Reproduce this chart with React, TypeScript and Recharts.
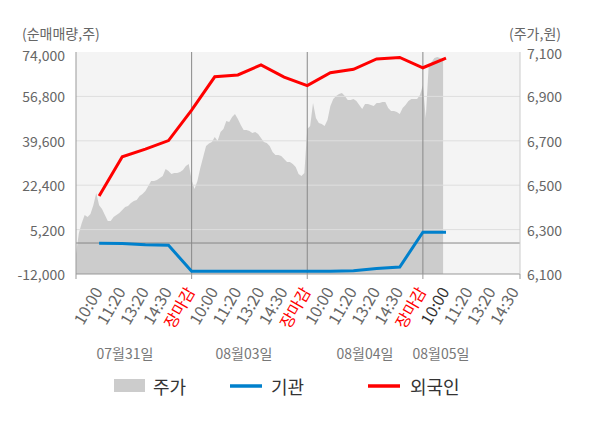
import React from 'react';
import { ComposedChart, Area, Line, XAxis, YAxis, CartesianGrid, ReferenceLine } from 'recharts';

const xLabels = [
  '10:00', '11:20', '13:20', '14:30', '장마감',
  '10:00', '11:20', '13:20', '14:30', '장마감',
  '10:00', '11:20', '13:20', '14:30', '장마감',
  '10:00', '11:20', '13:20', '14:30',
];
const dayLabels = ['07월31일', '08월03일', '08월04일', '08월05일'];
const dayLabelX = [125, 244, 365, 441];

const priceDay1 = [6190, 6285, 6330, 6366, 6357, 6370, 6410, 6465, 6410, 6393, 6366, 6339, 6339, 6357, 6366, 6375, 6388, 6402, 6406, 6420, 6429, 6433, 6451, 6460, 6474, 6496, 6519, 6519, 6523, 6532, 6541, 6573, 6564, 6550, 6555, 6555, 6559, 6568, 6586, 6595];
const priceDay2 = [6523, 6483, 6519, 6577, 6627, 6677, 6688, 6695, 6717, 6699, 6740, 6753, 6789, 6785, 6807, 6821, 6798, 6771, 6749, 6749, 6744, 6735, 6740, 6731, 6713, 6695, 6690, 6677, 6650, 6636, 6636, 6632, 6618, 6604, 6604, 6595, 6582, 6550, 6541, 6555];
const priceDay3 = [6753, 6767, 6870, 6803, 6780, 6776, 6767, 6794, 6857, 6888, 6902, 6911, 6915, 6902, 6884, 6884, 6888, 6879, 6861, 6843, 6866, 6866, 6861, 6857, 6870, 6870, 6875, 6875, 6848, 6834, 6834, 6830, 6821, 6848, 6861, 6879, 6888, 6888, 6888, 6906];
const priceDay4 = [6950, 6803, 7037, 7055, 7073, 7077, 7073, 7064];

const foreignFlow = [18200, 33400, 36400, 39700, 51500, 64400, 65100, 69000, 64300, 61000, 66000, 67300, 71300, 71900, 67900, 71600];
const institutionFlow = [-100, -200, -700, -900, -10900, -10900, -10900, -10900, -10900, -10900, -10900, -10700, -9900, -9300, 4200, 4200];

const flowTicks = [-12000, 5200, 22400, 39600, 56800, 74000];
const priceTicks = [6100, 6300, 6500, 6700, 6900, 7100];

const DAY_SPAN = 5;
const SAMPLE_STEP = 0.125;
const X_MAX = 19.2;
const boundaryTicks = [0, 5, 10, 15, X_MAX];
const labelTicks = xLabels.map((_, i) => i + 1);
const allTicks = Array.from(new Set([...boundaryTicks, ...labelTicks])).sort((a, b) => a - b);

function buildRows() {
  const map = new Map<number, any>();
  [priceDay1, priceDay2, priceDay3, priceDay4].forEach((arr, d) => {
    arr.forEach((p, i) => {
      const x = d * DAY_SPAN + i * SAMPLE_STEP;
      map.set(x, { x, price: p });
    });
  });
  foreignFlow.forEach((v, j) => {
    const x = j + 1;
    const r = map.get(x) ?? { x };
    r.frgn = v;
    r.inst = institutionFlow[j];
    map.set(x, r);
  });
  return Array.from(map.values()).sort((a, b) => a.x - b.x);
}
const rows = buildRows();

const FONT = "'Noto Sans CJK KR', 'Noto Sans', sans-serif";

const XTick = (props: any) => {
  const { x, y, payload } = props;
  const v = payload.value;
  const parts: React.ReactNode[] = [];
  if (boundaryTicks.includes(v)) {
    parts.push(<line key="l" x1={x} x2={x} y1={y} y2={y + 5} stroke="#999" />);
  }
  if (Number.isInteger(v) && v >= 1 && v <= xLabels.length) {
    const label = xLabels[v - 1];
    const color = label === '장마감' ? '#ff0000' : v === 16 ? '#333' : '#666';
    const ax = x + 4;
    const ay = y + 17.5;
    parts.push(
      <text key="t" x={ax} y={ay} textAnchor="end" fontSize={16} fill={color} fontFamily={FONT}
        transform={`rotate(-60 ${ax} ${ay})`}>{label}</text>
    );
  }
  return <g>{parts}</g>;
};

const makeYTick = (anchor: 'start' | 'end', topValue: number, topShift: number) => (props: any) => {
  const { x, y, payload } = props;
  const v = payload.value as number;
  return (
    <text x={x} y={y + (v === topValue ? topShift : 0)} textAnchor={anchor} dominantBaseline="central"
      fontSize={14} fill="#666" fontFamily={FONT}>{v.toLocaleString('en-US')}</text>
  );
};
const LeftTick = makeYTick('end', 74000, 3);
const RightTick = makeYTick('start', 7100, 1);

export default function App() {
  return (
    <div style={{ position: 'absolute', left: 0, top: 0, width: 600, height: 428, fontFamily: FONT, background: '#fff' }}>
      <ComposedChart width={600} height={428} data={rows} margin={{ top: 52, right: 0, left: 0, bottom: 94 }}>
        <CartesianGrid fill="#f4f4f4" horizontal={false} vertical={false} yAxisId="flow" />
        <XAxis dataKey="x" type="number" domain={[0, X_MAX]} ticks={allTicks} interval={0}
          tick={<XTick />} tickLine={false} tickSize={0} tickMargin={0} height={60}
          axisLine={{ stroke: '#999' }} allowDataOverflow />
        <YAxis yAxisId="flow" orientation="left" width={76} domain={[-12000, 74000]} ticks={flowTicks}
          tickLine={false} tickSize={0} tickMargin={11} interval={0}
          axisLine={{ stroke: '#999' }} tick={<LeftTick />} allowDataOverflow />
        <YAxis yAxisId="price" orientation="right" width={80} domain={[6100, 7100]} ticks={priceTicks}
          tickLine={false} tickSize={0} tickMargin={7} interval={0}
          axisLine={{ stroke: '#ccc' }} tick={<RightTick />} allowDataOverflow />
        <Area yAxisId="price" dataKey="price" type="linear" fill="#cccccc" fillOpacity={1} stroke="none"
          isAnimationActive={false} dot={false} activeDot={false} />
        {flowTicks.slice(1, 5).map((t) => (
          <ReferenceLine key={t} yAxisId="flow" y={t} stroke="#dedede" strokeWidth={1} />
        ))}
        <ReferenceLine yAxisId="flow" y={0} stroke="#888" strokeWidth={1} />
        {[5, 10, 15].map((b) => (
          <ReferenceLine key={'b' + b} yAxisId="flow" x={b} stroke="#888" strokeWidth={1} />
        ))}
        <Line yAxisId="flow" dataKey="inst" type="linear" stroke="#0080cc" strokeWidth={3} dot={false}
          activeDot={false} connectNulls isAnimationActive={false} />
        <Line yAxisId="flow" dataKey="frgn" type="linear" stroke="#ff0000" strokeWidth={3} dot={false}
          activeDot={false} connectNulls isAnimationActive={false} />
      </ComposedChart>
      <svg width={600} height={428} style={{ position: 'absolute', left: 0, top: 0, pointerEvents: 'none' }}>
        <text x={22} y={33} fontSize={14} fill="#666" dominantBaseline="central" fontFamily={FONT}>(순매매량,주)</text>
        <text x={509} y={33} fontSize={14} fill="#666" dominantBaseline="central" fontFamily={FONT}>(주가,원)</text>
        {dayLabels.map((d, i) => (
          <text key={d} x={dayLabelX[i]} y={353} fontSize={14} fill="#777" textAnchor="middle"
            dominantBaseline="central" fontFamily={FONT}>{d}</text>
        ))}
        <rect x={114} y={379} width={31} height={13} fill="#cccccc" />
        <text x={153} y={386} fontSize={18} fill="#333" dominantBaseline="central" fontFamily={FONT}>주가</text>
        <line x1={230} x2={262} y1={386} y2={386} stroke="#0080cc" strokeWidth={3.5} />
        <text x={271} y={386} fontSize={18} fill="#333" dominantBaseline="central" fontFamily={FONT}>기관</text>
        <line x1={368} x2={400} y1={386} y2={386} stroke="#ff0000" strokeWidth={3.5} />
        <text x={410} y={386} fontSize={18} fill="#333" dominantBaseline="central" fontFamily={FONT}>외국인</text>
      </svg>
    </div>
  );
}
